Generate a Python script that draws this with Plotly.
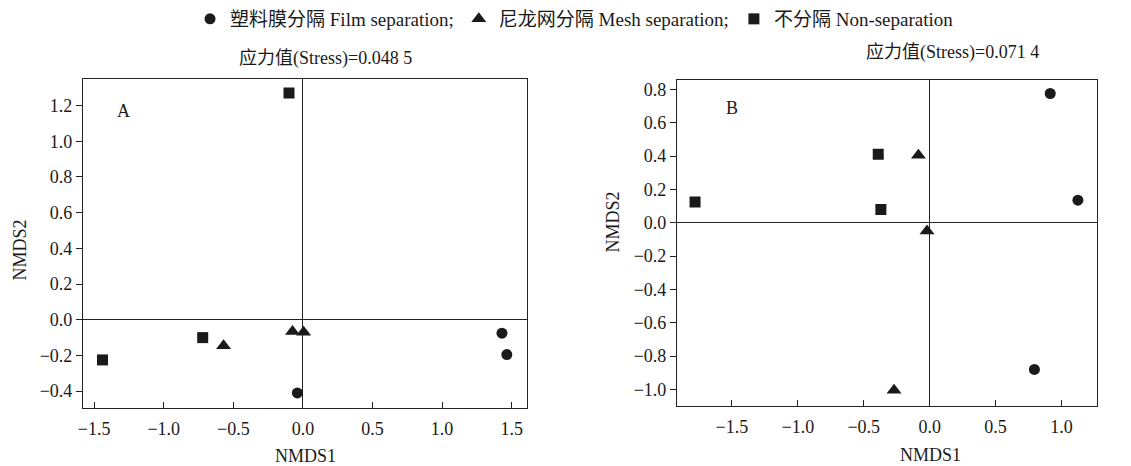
import plotly.graph_objects as go

# ---------------- data ----------------
group_names = ["塑料膜分隔 Film separation;", "尼龙网分隔 Mesh separation;", "不分隔 Non-separation"]
group_symbols = ["circle", "triangle-up", "square"]

# Panel A (Stress = 0.048 5)
a_film_x = [-0.04, 1.43, 1.465]
a_film_y = [-0.41, -0.075, -0.195]
a_mesh_x = [-0.57, -0.075, 0.005]
a_mesh_y = [-0.145, -0.065, -0.07]
a_non_x = [-1.44, -0.72, -0.10]
a_non_y = [-0.225, -0.10, 1.27]

# Panel B (Stress = 0.071 4)
b_film_x = [0.915, 1.125, 0.795]
b_film_y = [0.775, 0.135, -0.88]
b_mesh_x = [-0.085, -0.02, -0.27]
b_mesh_y = [0.405, -0.05, -1.005]
b_non_x = [-1.78, -0.39, -0.37]
b_non_y = [0.125, 0.41, 0.08]

title_a = "应力值(Stress)=0.048 5"
title_b = "应力值(Stress)=0.071 4"
xtitle = "NMDS1"
ytitle = "NMDS2"

# ---------------- layout helpers ----------------
W, H = 1131, 466
def fx(p):
    return p / W
def fy(p):
    return 1 - p / H

FONT = "Liberation Serif, Noto Sans CJK SC, serif"
INK = "#1a1a1a"
MSIZE = {"circle": 11, "triangle-up": 13, "square": 11}

fig = go.Figure()

panels = [
    ("x", "y", [(a_film_x, a_film_y), (a_mesh_x, a_mesh_y), (a_non_x, a_non_y)], True),
    ("x2", "y2", [(b_film_x, b_film_y), (b_mesh_x, b_mesh_y), (b_non_x, b_non_y)], False),
]
for xa, ya, groups, show in panels:
    for i, (gx, gy) in enumerate(groups):
        fig.add_trace(go.Scatter(
            x=gx, y=gy, mode="markers", xaxis=xa, yaxis=ya,
            name=group_names[i], legendgroup=group_names[i], showlegend=show,
            marker=dict(symbol=group_symbols[i], size=MSIZE[group_symbols[i]], color=INK,
                        line=dict(width=0)),
        ))

axis_common = dict(
    showgrid=False, zeroline=True, zerolinecolor="#222", zerolinewidth=1.2,
    showline=True, linecolor="#222", linewidth=1.2, mirror=True,
    tickformat=".1f", ticklen=6, tickwidth=1.2, tickcolor="#222",
    tickfont=dict(family=FONT, size=18, color=INK), automargin=False,
)

fig.update_layout(
    width=W, height=H, template="none",
    paper_bgcolor="white", plot_bgcolor="white",
    margin=dict(l=0, r=0, t=0, b=0),
    font=dict(family=FONT, size=18, color=INK),
    showlegend=True,
    legend=dict(orientation="h", x=0.508, xanchor="center", y=fy(18), yanchor="middle",
                font=dict(family=FONT, size=19, color=INK), itemwidth=30,
                bgcolor="rgba(0,0,0,0)", traceorder="normal"),
    xaxis=dict(domain=[fx(83), fx(527)], range=[-1.58, 1.61], dtick=0.5, tick0=0,
               ticks="inside", anchor="y", ticklabelstandoff=4, **axis_common),
    yaxis=dict(domain=[fy(408), fy(78)], range=[-0.495, 1.35], dtick=0.2, tick0=0,
               ticks="outside", anchor="x", **axis_common),
    xaxis2=dict(domain=[fx(677), fx(1097)], range=[-1.917, 1.27], dtick=0.5, tick0=0,
                ticks="inside", anchor="y2", ticklabelstandoff=4, **axis_common),
    yaxis2=dict(domain=[fy(406), fy(79)], range=[-1.10, 0.857], dtick=0.2, tick0=0,
                ticks="outside", anchor="x2", **axis_common),
)

def note(text, x, y, xref="paper", yref="paper", angle=0):
    return dict(text=text, x=x, y=y, xref=xref, yref=yref, showarrow=False,
                xanchor="center", yanchor="middle", textangle=angle,
                font=dict(family=FONT, size=18, color=INK))

ann = [
    note(title_a, fx(325), fy(58)),
    note(title_b, fx(952), fy(52)),
    note(xtitle, fx(305), fy(456)),
    note(ytitle, fx(20), fy(250), angle=-90),
    note(xtitle, fx(930), fy(455)),
    note(ytitle, fx(613), fy(222), angle=-90),
    note("A", -1.286, 1.17, "x", "y"),
    note("B", -1.503, 0.69, "x2", "y2"),
]
fig.update_layout(annotations=ann)

fig.write_html("out.html", config={"displayModeBar": False},
               post_script="document.body.style.margin='0';")
